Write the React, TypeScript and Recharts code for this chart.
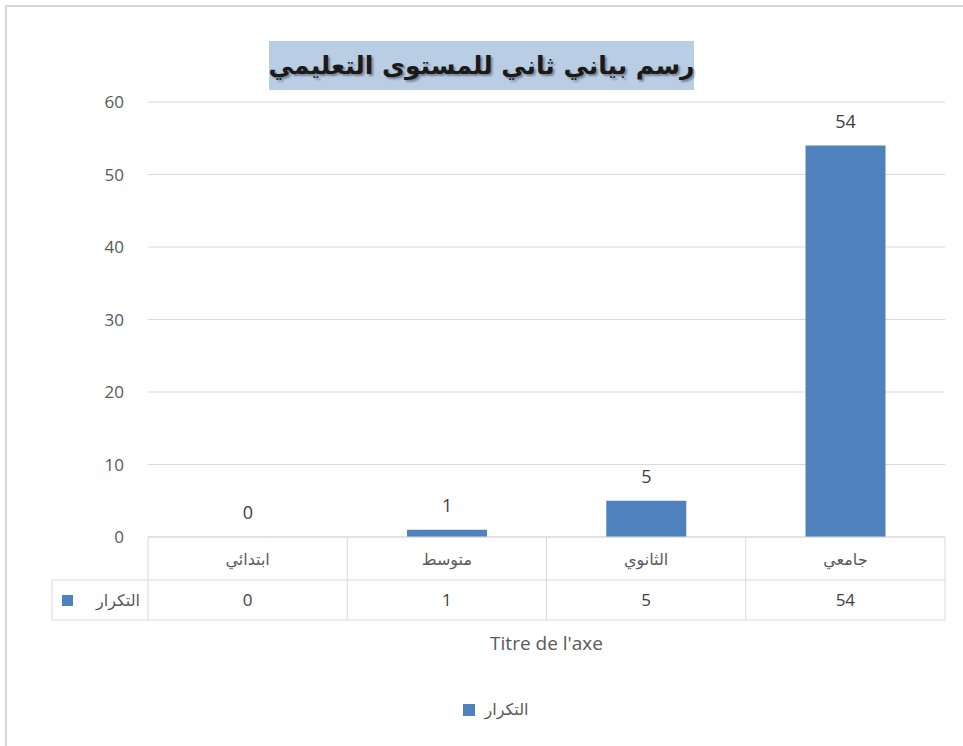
import { BarChart, Bar, XAxis, YAxis, CartesianGrid, LabelList, Legend } from "recharts";

const CATEGORIES = ["ابتدائي", "متوسط", "الثانوي", "جامعي"];
const COUNTS = [0, 1, 5, 54];
const SERIES_NAME = "التكرار";
const Y_TICKS = [0, 10, 20, 30, 40, 50, 60];
const TITLE = "رسم بياني ثاني للمستوى التعليمي";
const AXIS_TITLE = "Titre de l'axe";

const BLUE = "#4f81bd";
const GRID = "#d9d9d9";
const GREY_TEXT = "#595959";
const DARK_TEXT = "#404040";
const ARABIC = "'DejaVu Sans', sans-serif";
const LATIN = "'Open Sans', 'Liberation Sans', sans-serif";

const W = 963;
const H = 746;
const MARGIN = { top: 102, right: 18, bottom: 0, left: 0 };
const Y_AXIS_W = 148;
const X_AXIS_H = 209;
const PLOT_W = W - MARGIN.left - MARGIN.right - Y_AXIS_W;
const BAND = PLOT_W / CATEGORIES.length;
const ROW1 = 43;
const ROW2 = 40;
const KEY_COL = 96;

const data = CATEGORIES.map((name, i) => ({ name, count: COUNTS[i] }));

// category label + data table cell under each bar
function TableTick(props: any) {
  const { x, y, index } = props;
  const left = x - BAND / 2;
  const right = x + BAND / 2;
  const bottom = y + ROW1 + ROW2;
  return (
    <g>
      {index === 0 && (
        <g>
          <line x1={left} y1={y} x2={left} y2={bottom} stroke={GRID} />
          <line x1={left - KEY_COL} y1={y + ROW1} x2={left - KEY_COL} y2={bottom} stroke={GRID} />
          <line x1={left - KEY_COL} y1={y + ROW1} x2={left} y2={y + ROW1} stroke={GRID} />
          <line x1={left - KEY_COL} y1={bottom} x2={left} y2={bottom} stroke={GRID} />
          <rect x={left - KEY_COL + 10} y={y + ROW1 + 15} width={11} height={11} fill={BLUE} />
          <text x={left - 8} y={y + ROW1 + 21} textAnchor="end" dominantBaseline="middle" fontFamily={ARABIC} fontSize={16} fill={GREY_TEXT}>
            {SERIES_NAME}
          </text>
        </g>
      )}
      <line x1={right} y1={y} x2={right} y2={bottom} stroke={GRID} />
      <line x1={left} y1={y + ROW1} x2={right} y2={y + ROW1} stroke={GRID} />
      <line x1={left} y1={bottom} x2={right} y2={bottom} stroke={GRID} />
      <text x={x} y={y + ROW1 / 2 + 2} textAnchor="middle" dominantBaseline="middle" fontFamily={ARABIC} fontSize={16} fill={GREY_TEXT}>
        {CATEGORIES[index]}
      </text>
      <text x={x} y={y + ROW1 + ROW2 / 2 + 1} textAnchor="middle" dominantBaseline="middle" fontFamily={LATIN} fontSize={17} fill={DARK_TEXT}>
        {COUNTS[index]}
      </text>
    </g>
  );
}

function LegendContent() {
  return (
    <div style={{ display: "flex", alignItems: "center", justifyContent: "center", paddingLeft: 28 }}>
      <span style={{ width: 12, height: 12, background: BLUE, display: "inline-block", marginRight: 10 }} />
      <span style={{ fontFamily: ARABIC, fontSize: 16, color: GREY_TEXT }}>{SERIES_NAME}</span>
    </div>
  );
}

export default function App() {
  return (
    <div style={{ position: "absolute", left: 0, top: 0, width: W, height: H, overflow: "hidden", background: "#fff" }}>
      <div style={{ position: "absolute", left: 5, top: 5, width: W + 20, height: H + 20, border: "2px solid #d6d6d6" }} />
      <BarChart width={W} height={H} data={data} margin={MARGIN} barCategoryGap="30%">
        <CartesianGrid vertical={false} stroke={GRID} />
        <YAxis
          width={Y_AXIS_W}
          domain={[0, 60]}
          ticks={Y_TICKS}
          axisLine={false}
          tickLine={false}
          tickSize={0}
          tickMargin={24}
          tick={{ fontFamily: LATIN, fontSize: 17, fill: GREY_TEXT }}
        />
        <XAxis
          dataKey="name"
          height={X_AXIS_H}
          axisLine={{ stroke: GRID }}
          tickLine={false}
          tickSize={0}
          tickMargin={0}
          interval={0}
          tick={(p: any) => <TableTick {...p} />}
          label={{ value: AXIS_TITLE, position: "insideBottom", offset: 96, fontFamily: LATIN, fontSize: 19, fill: GREY_TEXT }}
        />
        <Legend
          layout="horizontal"
          verticalAlign="middle"
          align="center"
          content={() => <LegendContent />}
          wrapperStyle={{ top: 700, left: 0, width: W }}
        />
        <Bar dataKey="count" name={SERIES_NAME} fill={BLUE} minPointSize={0.01} isAnimationActive={false}>
          <LabelList dataKey="count" position="top" offset={18} fontFamily={LATIN} fontSize={18} fill={DARK_TEXT} />
        </Bar>
      </BarChart>
      <div
        style={{
          position: "absolute",
          left: 269,
          top: 41,
          width: 425,
          height: 49,
          background: "#b9cde5",
          display: "flex",
          alignItems: "center",
          justifyContent: "center",
          whiteSpace: "nowrap",
          fontFamily: ARABIC,
          fontWeight: "bold",
          fontSize: 25,
          color: "#1a1a1a",
          textShadow: "2px 2px 2px rgba(0,0,0,0.35)",
          direction: "rtl",
        }}
      >
        {TITLE}
      </div>
    </div>
  );
}
